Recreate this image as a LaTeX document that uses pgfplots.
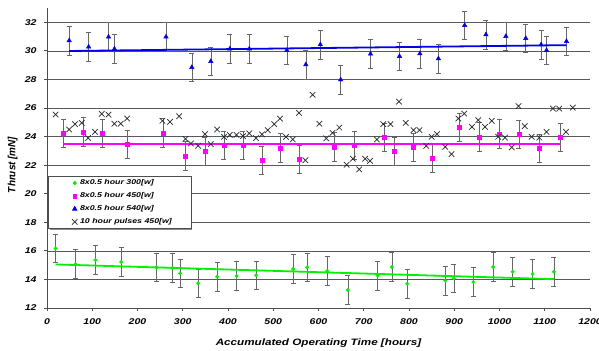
\documentclass[border=0pt]{standalone}
\usepackage{pgfplots}
\pgfplotsset{compat=1.18}
\usepackage{pgfplotstable}
\usetikzlibrary{shadows}
\usepackage{fontspec}
\setmainfont{Liberation Sans}[FakeStretch=1.26]
\newfontfamily\ylabfont{Liberation Sans}[FakeStretch=0.95]
\definecolor{grn}{RGB}{0,240,0}
\definecolor{mag}{RGB}{255,0,255}
\definecolor{blu}{RGB}{0,0,230}
\pgfplotstableread{
x y e
19 16.17 1
63 15.08 1
107 15.36 1
164 15.22 1
242 14.85 1
277 14.80 1
294 14.43 1
334 13.73 1
376 14.19 1
419 14.24 1
462 14.29 1
544 14.73 1
575 14.85 1
619 14.59 1
665 13.26 1
731 14.26 1
762 14.87 1
796 13.70 1
880 13.91 1
899 14.07 1
942 13.82 1
986 14.87 1
1029 14.54 1
1073 14.38 1
1120 14.54 1
}\greendata
\pgfplotstableread{
x y e
36 24.22 1
80 24.33 1
122 24.22 1
177 23.45 1
256 24.26 1
306 22.65 1
349 22.96 1
391 23.40 1
433 23.40 1
475 22.33 1
516 23.20 1
558 22.42 1
635 23.28 1
679 23.38 1
746 23.96 1
767 22.96 1
810 23.24 1
852 22.47 1
911 24.66 1
955 23.98 1
1000 24.20 1
1043 24.17 1
1088 23.19 1
1134 23.96 1
}\magdata
\pgfplotstableread{
x y e
49 30.72 1
92 30.28 1
136 30.98 1
149 30.14 1
263 30.98 1
320 28.85 1
362 29.27 1
404 30.14 1
447 30.14 1
530 30.04 1
572 29.04 1
604 30.44 1
649 27.98 1
715 29.79 1
779 29.62 1
824 29.81 1
865 29.46 1
923 31.79 1
970 31.14 1
1014 31.02 1
1058 30.88 1
1092 30.44 1
1104 30.04 1
1148 30.67 1
}\bludata
\pgfplotstableread{
x y
19 25.54
49 24.50
62 24.87
77 24.96
91 23.90
106 24.33
121 25.59
136 25.54
149 24.90
163 24.90
177 25.26
255 25.10
272 25.03
292 25.43
306 23.84
318 23.52
334 23.35
349 24.17
362 23.47
376 24.50
391 23.98
404 24.12
419 24.12
433 24.03
447 24.22
462 23.89
475 24.15
488 24.45
502 24.87
515 25.26
528 23.98
543 23.80
557 25.66
571 22.35
587 26.92
602 24.90
617 23.87
631 24.26
646 24.63
662 22.03
676 22.45
690 21.70
703 22.45
714 22.30
729 23.80
743 24.87
759 24.87
778 26.45
793 24.96
810 24.45
823 24.45
838 23.35
850 23.98
862 24.17
880 23.28
894 22.77
909 25.26
922 25.61
939 24.68
953 25.15
968 24.68
983 25.10
997 23.98
1012 23.93
1027 23.24
1042 26.13
1056 24.73
1071 23.98
1088 23.93
1104 24.33
1118 25.96
1132 25.96
1147 24.33
1162 26.03
}\xdata
\begin{document}
\begin{tikzpicture}
\useasboundingbox (-47bp,-43bp) rectangle (552bp,308bp);
\begin{axis}[
  at={(0,0)}, anchor=south west,
  scale only axis, width=543bp, height=300bp,
  xmin=0, xmax=1200, ymin=12, ymax=33,
  xtick={0,100,...,1200}, ytick={12,14,...,32},
  axis x line=bottom, axis y line=left,
  axis line style={-, black!70, line width=0.8bp},
  tick align=outside, tick style={black!70, line width=0.8bp},
  major tick length=3bp,
  ymajorgrids, grid style={black!65, line width=0.7bp},
  /pgf/number format/assume math mode=true,
  /pgf/number format/1000 sep={},
  ticklabel style={font=\fontsize{8.4}{10}\selectfont\bfseries\itshape},
  xticklabel style={yshift=-4bp},
  yticklabel style={xshift=-4bp},
  xlabel={Accumulated Operating Time [hours]},
  ylabel={\ylabfont Thrust [mN]},
  xlabel style={font=\fontsize{9.3}{11}\selectfont\bfseries\itshape,
    at={(axis description cs:0.5,-0.117)}, anchor=center},
  ylabel style={font=\fontsize{10.5}{12}\selectfont\bfseries\itshape,
    at={(axis description cs:-0.063,0.477)}, anchor=center, rotate=0},
  legend style={at={(0.002,0.44)}, anchor=north west, draw=black!70, line width=0.6bp,
    fill=white, drop shadow={shadow xshift=1.5bp, shadow yshift=-1.5bp, fill=black!45, opacity=1},
    font=\fontsize{7}{8.5}\selectfont\bfseries\itshape, row sep=2.4bp,
    inner xsep=3bp, inner ysep=1.5bp, legend cell align=left},
  legend image code/.code={\path (0bp,-1bp) (26bp,1bp); \draw[only marks] plot coordinates {(23bp,0bp)};},
  error bars/y dir=both, error bars/y explicit,
]
% green
\addplot[only marks, mark=*, mark size=1.7bp, color=grn,
  error bars/.cd, error bar style={black!60, line width=0.6bp},
  error mark options={black!60, mark size=2.5bp, line width=0.6bp, rotate=90}]
  table[x=x, y=y, y error=e]{\greendata};
\addlegendentry{8x0.5 hour 300[w]}
% magenta
\addplot[only marks, mark=square*, mark size=1.9bp, color=mag,
  error bars/.cd, error bar style={black!60, line width=0.6bp},
  error mark options={black!60, mark size=2.5bp, line width=0.6bp, rotate=90}]
  table[x=x, y=y, y error=e]{\magdata};
\addlegendentry{8x0.5 hour 450[w]}
% blue
\addplot[only marks, mark=triangle*, mark size=2.6bp, color=blu,
  error bars/.cd, error bar style={black!60, line width=0.6bp},
  error mark options={black!60, mark size=2.5bp, line width=0.6bp, rotate=90}]
  table[x=x, y=y, y error=e]{\bludata};
\addlegendentry{8x0.5 hour 540[w]}
% black x
\addplot[only marks, mark=x, mark size=3.9bp, color=black!85, line width=0.7bp,
  error bars/y dir=none]
  table[x=x, y=y]{\xdata};
\addlegendentry{10 hour pulses 450[w]\hspace*{14bp}}
% trendlines
\addplot[grn, line width=1.8bp, forget plot, error bars/y dir=none] coordinates {(19,15.05) (1120,14.02)};
\addplot[mag, line width=1.8bp, forget plot, error bars/y dir=none] coordinates {(36,23.5) (1134,23.5)};
\addplot[blu, line width=1.8bp, forget plot, error bars/y dir=none] coordinates {(49,29.99) (1148,30.4)};
\end{axis}
\end{tikzpicture}
\end{document}
